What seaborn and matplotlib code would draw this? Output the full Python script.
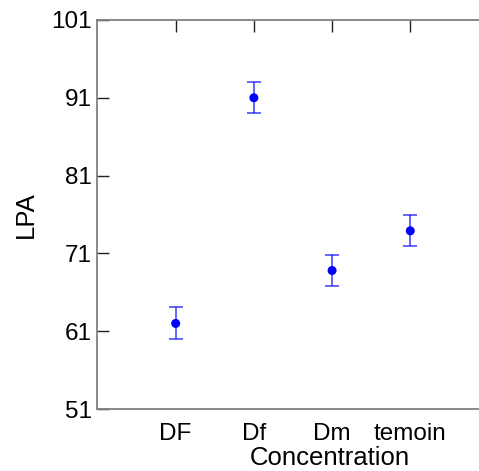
import matplotlib
matplotlib.use("Agg")
import matplotlib.pyplot as plt
import seaborn as sns
import pandas as pd

# Mean LPA per concentration group, with its error half-width
groups = ["DF", "Df", "Dm", "temoin"]
lpa_mean = [62.0, 91.0, 68.8, 73.9]
lpa_err = [2.05, 2.0, 2.05, 2.0]
y_ticks = [51, 61, 71, 81, 91, 101]

df = pd.DataFrame({"Concentration": groups, "LPA": lpa_mean, "err": lpa_err})

sns.set_style("white")
plt.rcParams["font.family"] = ["Liberation Sans", "DejaVu Sans"]
plt.rcParams["text.color"] = "black"
plt.rcParams["axes.labelcolor"] = "black"
plt.rcParams["xtick.labelcolor"] = "black"
plt.rcParams["ytick.labelcolor"] = "black"

fig = plt.figure(figsize=(4.79, 4.71), dpi=100)
ax = fig.add_axes([0.2035, 0.1316, 0.8163, 0.826])

sns.scatterplot(data=df, x="Concentration", y="LPA", ax=ax, color="#0000ff",
                s=42, edgecolor="none", zorder=3)
ax.errorbar(range(len(groups)), df["LPA"], yerr=df["err"], fmt="none",
            ecolor="#0000ff", alpha=0.7, elinewidth=1.2, capsize=5,
            capthick=1.2, zorder=2)

ax.set_xlim(-1, 4)
ax.set_ylim(51, 101)
ax.set_yticks(y_ticks)
ax.set_xticks(range(len(groups)))
ax.set_xticklabels(groups)

ax.set_xlabel("Concentration", fontsize=18.5)
ax.xaxis.set_label_coords(0.593, -0.095)
ax.set_ylabel("LPA", fontsize=18.5, labelpad=10)

for side in ["left", "bottom", "top"]:
    ax.spines[side].set_visible(True)
    ax.spines[side].set_color("#808080")
    ax.spines[side].set_linewidth(1.3)
ax.spines["right"].set_visible(False)

ax.tick_params(axis="both", direction="in", length=8.5, width=1,
               color="#222222", labelsize=17.5)
ax.tick_params(axis="x", top=True, pad=10)
ax.tick_params(axis="y", left=True, pad=4)

fig.savefig("out.png", dpi=100)
